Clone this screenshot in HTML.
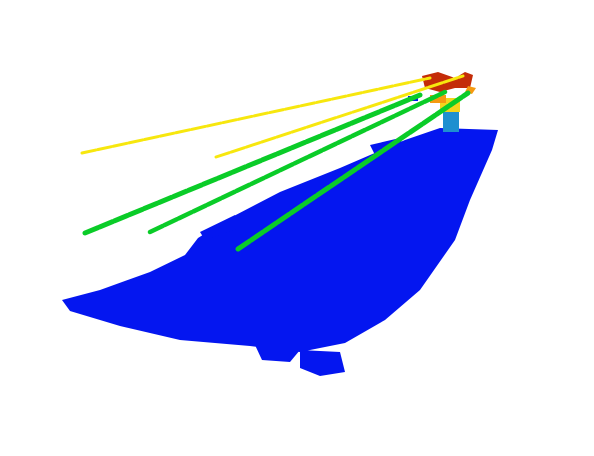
<!DOCTYPE html>
<html><head><meta charset="utf-8"><style>
html,body{margin:0;padding:0;background:#fff;width:594px;height:456px;overflow:hidden}
</style></head><body>
<svg width="594" height="456" viewBox="0 0 594 456" xmlns="http://www.w3.org/2000/svg">
<g fill="#0416f0">
<polygon points="405,140 440,128 498,130 492,150 470,200 455,240 420,290 385,320 345,343 300,352 250,346 180,340 120,326 70,311 62,300 100,290 150,272 185,255 198,238 230,218 280,192 340,168"/>
<polygon points="300,350 340,352 345,372 320,376 300,368"/>
<polygon points="255,345 300,350 290,362 262,360"/>
<polygon points="200,232 235,215 240,228 205,240"/>
<polygon points="370,145 400,138 405,150 375,155"/>
</g>
<g>
<rect x="443" y="110" width="16" height="22" fill="#1e8fd0"/>
<rect x="440" y="98" width="20" height="14" fill="#f2d51c"/>
<rect x="430" y="95" width="16" height="8" fill="#f59a10"/>
<path d="M422,76 L438,72 L455,78 L465,72 L473,75 L470,88 L455,88 L440,92 L425,88 Z" fill="#c42c08"/>
<path d="M468,86 L476,88 L472,94 L465,92Z" fill="#f59a10"/>
<rect x="408" y="96" width="10" height="5" fill="#0416f0"/>
</g>
<g stroke-linecap="round" stroke-dasharray="14 2">
<line x1="82" y1="153" x2="430" y2="78" stroke="#f7e70e" stroke-width="3"/>
<line x1="216" y1="157" x2="463" y2="76" stroke="#f7e70e" stroke-width="3"/>
<line x1="85" y1="233" x2="420" y2="95" stroke="#0acc28" stroke-width="5"/>
<line x1="150" y1="232" x2="445" y2="92" stroke="#0acc28" stroke-width="4.5"/>
<line x1="238" y1="249" x2="468" y2="93" stroke="#0acc28" stroke-width="5"/>
</g>
</svg>
</body></html>
